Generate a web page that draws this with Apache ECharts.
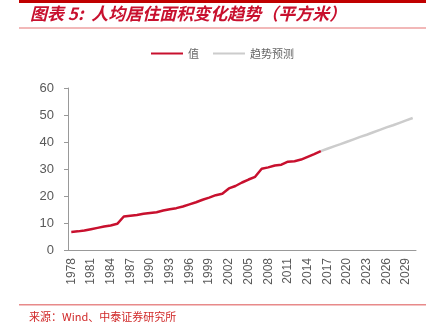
<!DOCTYPE html>
<html>
<head>
<meta charset="utf-8">
<script src="https://cdn.jsdelivr.net/npm/echarts@6/dist/echarts.min.js"></script>
<style>
html,body{margin:0;padding:0;background:#fff;}
#main{width:443px;height:328px;}
</style>
</head>
<body>
<div id="main"></div>
<script>
var years = [];
for (var y = 1978; y <= 2030; y++) years.push(String(y));

// 实际值 1978-2016
var actualValues = [6.7, 6.9, 7.2, 7.7, 8.2, 8.7, 9.1, 9.7, 12.4, 12.7, 13.0, 13.4, 13.7, 14.0, 14.6, 15.1, 15.5, 16.1, 16.9, 17.7, 18.6, 19.4, 20.3, 20.8, 22.8, 23.7, 25.0, 26.1, 27.1, 30.1, 30.6, 31.3, 31.6, 32.7, 32.9, 33.5, 34.5, 35.5, 36.6];
// 趋势预测 2016-2030
var trendValues = [36.6, 37.5, 38.4, 39.2, 40.1, 41.0, 41.9, 42.7, 43.6, 44.5, 45.4, 46.2, 47.1, 48.0, 48.9];
var yTicks = [0, 10, 20, 30, 40, 50, 60];

var actualData = years.map(function (yr, i) { return i < actualValues.length ? actualValues[i] : null; });
var trendStart = actualValues.length - 1;
var trendData = years.map(function (yr, i) {
  var j = i - trendStart;
  return (j >= 0 && j < trendValues.length) ? trendValues[j] : null;
});

var chart = echarts.init(document.getElementById('main'), null, {renderer: 'canvas'});
chart.setOption({
  animation: false,
  backgroundColor: '#fff',
  textStyle: {fontFamily: 'Liberation Sans, Arial, sans-serif'},
  graphic: [
    {type: 'rect', shape: {x: 19, y: 0, width: 407, height: 3}, style: {fill: '#c00000'}},
    {type: 'text', left: 30, top: 5, style: {text: '图表 5:  人均居住面积变化趋势（平方米）', fill: '#c8102e',
      font: 'italic bold 17px "Noto Sans CJK SC", sans-serif'}},
    {type: 'rect', shape: {x: 19, y: 27, width: 407, height: 2}, style: {fill: '#f2b8b8'}},
    {type: 'rect', shape: {x: 19, y: 304, width: 407, height: 1.5}, style: {fill: '#e88a8a'}},
    {type: 'text', left: 29, top: 311, style: {text: '来源：Wind、中泰证券研究所', fill: '#d02828',
      font: '11px "Noto Sans CJK SC", sans-serif'}}
  ],
  legend: {
    top: 43,
    left: 146,
    itemWidth: 32,
    itemHeight: 2,
    itemGap: 14,
    icon: 'rect',
    textStyle: {color: '#666', fontSize: 11, fontFamily: 'Noto Sans CJK SC, sans-serif'},
    data: ['值', '趋势预测']
  },
  grid: {left: 68, right: 27, top: 88, bottom: 78, containLabel: false},
  xAxis: {
    type: 'category',
    data: years,
    boundaryGap: true,
    axisLine: {lineStyle: {color: '#999', width: 1}},
    axisTick: {interval: 2, length: 4, lineStyle: {color: '#999'}},
    axisLabel: {interval: 2, rotate: 90, color: '#595959', fontSize: 12, margin: 8, padding: [0, 0, 6, 0]}
  },
  yAxis: {
    type: 'value',
    min: yTicks[0],
    max: yTicks[yTicks.length - 1],
    interval: 10,
    axisLine: {show: true, lineStyle: {color: '#999', width: 1}},
    axisTick: {show: true, length: 4, lineStyle: {color: '#999'}},
    splitLine: {show: false},
    axisLabel: {color: '#595959', fontSize: 13, margin: 14}
  },
  series: [
    {name: '值', type: 'line', data: actualData, showSymbol: false, symbol: 'none',
      lineStyle: {color: '#c8102e', width: 2.5}, itemStyle: {color: '#c8102e'}, z: 3},
    {name: '趋势预测', type: 'line', data: trendData, showSymbol: false, symbol: 'none',
      lineStyle: {color: '#cccccc', width: 2.5}, itemStyle: {color: '#cccccc'}, z: 2}
  ]
});
</script>
</body>
</html>
